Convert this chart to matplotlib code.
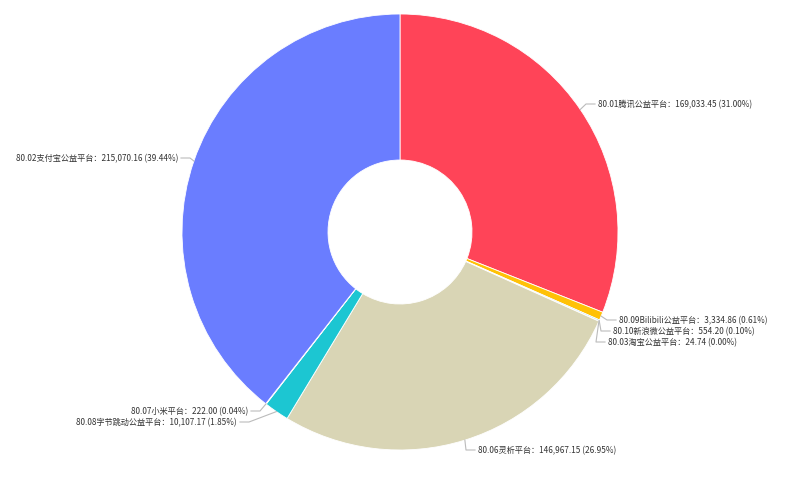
import numpy as np
import matplotlib.pyplot as plt
from matplotlib.patches import Wedge

plt.rcParams['font.family'] = ['Noto Sans CJK SC', 'DejaVu Sans']

# данные (по часовой стрелке от верха)
names = ['80.01腾讯公益平台', '80.09Bilibili公益平台', '80.10新浪微公益平台', '80.03淘宝公益平台',
         '80.06灵析平台', '80.08字节跳动公益平台', '80.07小米平台', '80.02支付宝公益平台']
values = [169033.45, 3334.86, 554.20, 24.74, 146967.15, 10107.17, 222.00, 215070.16]
colors = ['#FF4458', '#FFC107', '#8FD3F5', '#7DD87D', '#D9D5B5', '#1CC6D2', '#5BC0EB', '#6A7DFF']

# позиции подписей в пикселях (x, y сверху) и выравнивание
label_px = [(598, 105), (619, 321), (613, 332), (608, 343), (478, 451), (237, 423), (248, 412), (178, 159)]
label_ha = ['left', 'left', 'left', 'left', 'left', 'right', 'right', 'right']

W, H = 800, 481
cx, cy, R, r_in = 400, 233, 218, 72

fig = plt.figure(figsize=(W / 100, H / 100), dpi=100)
ax = fig.add_axes([0, 0, 1, 1])
ax.set_xlim(-cx / R, (W - cx) / R)
ax.set_ylim(-(H - cy) / R, cy / R)
ax.set_aspect('equal')
ax.axis('off')

total = sum(values)
start = 90.0
for name, v, c, (lx, ly), ha in zip(names, values, colors, label_px, label_ha):
    sweep = v / total * 360
    ax.add_patch(Wedge((0, 0), 1, start - sweep, start, width=1 - r_in / R,
                       facecolor=c, edgecolor='white', linewidth=0.6))
    mid = np.radians(start - sweep / 2)
    ex, ey = np.cos(mid), np.sin(mid)
    tx, ty = (lx - cx) / R, (cy - ly) / R
    sgn = 1 if ha == 'left' else -1
    ax.plot([ex, tx - sgn * 12 / R, tx - sgn * 3 / R], [ey, ty, ty],
            color='#BBBBBB', linewidth=0.8)
    pct = v / total * 100
    ax.text(tx, ty, f'{name}：{v:,.2f} ({pct:.2f}%)', ha=ha, va='center',
            fontsize=5.9, color='#333333')
    start -= sweep

fig.savefig('out.png', dpi=100)
